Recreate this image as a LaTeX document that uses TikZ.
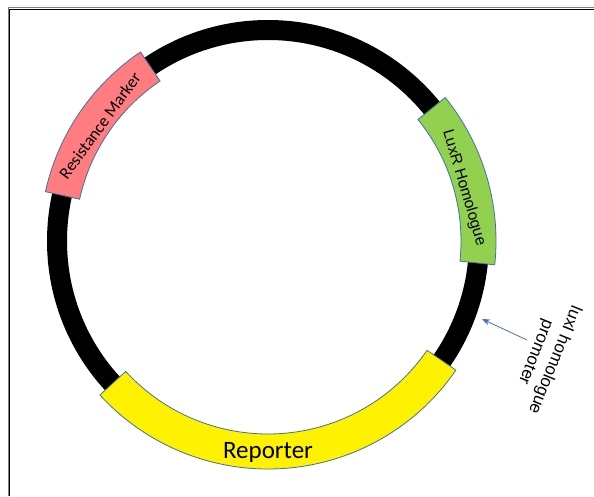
\documentclass[tikz,border=0pt]{standalone}
\usepackage{fontspec}
\setmainfont{Carlito}
\newfontfamily\arialfont{Liberation Sans}
\usetikzlibrary{arrows.meta}

\definecolor{markerpink}{HTML}{FF7C80}
\definecolor{luxgreen}{HTML}{92D050}
\definecolor{edgeblue}{HTML}{41719C}
\definecolor{arrowblue}{HTML}{4472C4}

\begin{document}
\begin{tikzpicture}[x=1pt, y=1pt, gene/.style = {draw=edgeblue, line width=0.8pt}, lbl/.style = {inner sep=0pt, text=black}]
  \useasboundingbox (0,0) rectangle (594,496);
  % Frame
  \draw[gray, line width=1pt] (8,0) -- (8,488) -- (594,488);
  \draw[line width=1.3pt] (9.6,0) -- (9.6,486.4) -- (594,486.4);

  % Backbone
  \coordinate (c) at (268,255);
  \draw[line width=20pt] (c) circle[radius=211];

  % Genes
  \filldraw[gene, fill=markerpink] ([shift={(c)}]124:193) arc[start angle=124, end angle=167.5, radius=193]
    -- ([shift={(c)}]167.5:228) arc[start angle=167.5, end angle=124, radius=228] -- cycle;
  \filldraw[gene, fill=luxgreen] ([shift={(c)}]-6:193) arc[start angle=-6, end angle=39, radius=193]
    -- ([shift={(c)}]39:228) arc[start angle=39, end angle=-6, radius=228] -- cycle;
  \filldraw[gene, fill=yellow] ([shift={(c)}]-137.5:193) arc[start angle=-137.5, end angle=-34.5, radius=193]
    -- ([shift={(c)}]-34.5:228) arc[start angle=-34.5, end angle=-137.5, radius=228] -- cycle;

  % Labels
  \node[lbl, rotate=54, font=\fontsize{17}{20}\selectfont] (marker) at ([shift={(c)}]145.5:204) {Resistance Marker};
  \node[lbl, rotate=-73.5, font=\arialfont\fontsize{15.5}{19}\selectfont] (luxr) at ([shift={(c)}]15.2:203) {LuxR Homologue};
  \node[lbl, font=\fontsize{25}{30}\selectfont] (reporter) at ([shift={(c)}]-90:211) {Reporter};
  \node[lbl, rotate=-112, align=center, font=\arialfont\fontsize{17}{20.5}\selectfont] (promlbl) at (545,140) {luxI homologue\\promoter};

  % Promoter arrow
  \coordinate (promtail) at (527,156);
  \coordinate (promhead) at (482,177);
  \draw[arrowblue, line width=0.8pt, -{Stealth[length=8pt, width=6pt]}] (promtail) -- (promhead);
\end{tikzpicture}
\end{document}
